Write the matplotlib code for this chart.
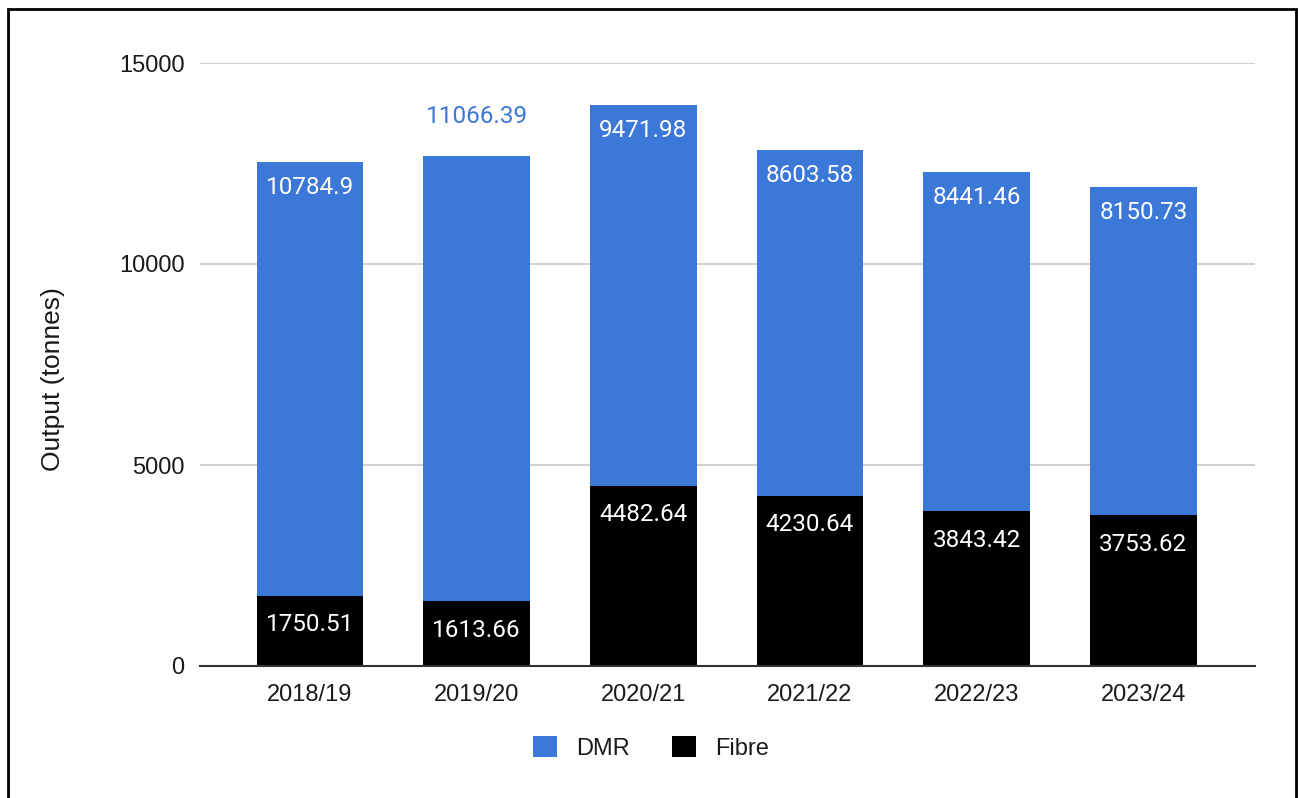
import matplotlib
matplotlib.use("Agg")
import matplotlib.pyplot as plt
from matplotlib.patches import Rectangle, Patch
import numpy as np

years = ["2018/19", "2019/20", "2020/21", "2021/22", "2022/23", "2023/24"]
fibre = [1750.51, 1613.66, 4482.64, 4230.64, 3843.42, 3753.62]
dmr = [10784.9, 11066.39, 9471.98, 8603.58, 8441.46, 8150.73]
# the DMR label for this bar sits above the bar rather than inside it
dmr_label_outside = [False, True, False, False, False, False]

BLUE = "#3c78d8"
BLACK = "#000000"
TICK_FONT = "Liberation Sans"
LABEL_FONT = "Roboto"
FS = 17

W, H = 1298, 798
fig = plt.figure(figsize=(W / 100, H / 100), dpi=100)
ax = fig.add_axes([200 / W, 1 - 666 / H, (1255 - 200) / W, (666 - 63) / H])

x = np.arange(len(years))
width = 0.64
ax.bar(x, fibre, width, color=BLACK, zorder=3, label="Fibre")
ax.bar(x, dmr, width, bottom=fibre, color=BLUE, zorder=3, label="DMR")

# value labels, offset in pixels from the top of each segment
to_data = 15000 / (666 - 63)
for i in range(len(years)):
    ax.text(x[i], fibre[i] - 29 * to_data, str(fibre[i]), ha="center", va="center",
            color="white", fontsize=17.5, family=LABEL_FONT, zorder=4)
    top = fibre[i] + dmr[i]
    if dmr_label_outside[i]:
        ax.text(x[i], top + 40 * to_data, str(dmr[i]), ha="center", va="center",
                color=BLUE, fontsize=17.5, family=LABEL_FONT, zorder=4)
    else:
        ax.text(x[i], top - 25 * to_data, str(dmr[i]), ha="center", va="center",
                color="white", fontsize=17.5, family=LABEL_FONT, zorder=4)

ax.set_xlim(-0.66, 5.67)
ax.set_ylim(0, 15000)
ax.set_yticks([0, 5000, 10000, 15000])
ax.set_yticklabels(["0", "5000", "10000", "15000"])
ax.set_xticks(x)
ax.set_xticklabels(years)
for lab in ax.get_xticklabels() + ax.get_yticklabels():
    lab.set_family(TICK_FONT)
    lab.set_fontsize(FS)
    lab.set_color("#1a1a1a")
ax.tick_params(axis="both", length=0)
ax.tick_params(axis="y", pad=11)
ax.tick_params(axis="x", pad=13)

ax.grid(axis="y", color="#cccccc", linewidth=1.3, zorder=0)
for s in ["top", "right", "left"]:
    ax.spines[s].set_visible(False)
ax.spines["bottom"].set_color("#333333")
ax.spines["bottom"].set_linewidth(1.5)
ax.spines["bottom"].set_zorder(5)

ax.set_ylabel("Output (tonnes)", family=TICK_FONT, fontsize=19, color="#1a1a1a")
ax.yaxis.set_label_coords(-(200 - 65) / (1255 - 200), (666 - 379) / (666 - 63))

handles = [Patch(facecolor=BLUE, label="DMR"), Patch(facecolor=BLACK, label="Fibre")]
leg = fig.legend(handles=handles, loc="center", bbox_to_anchor=(651 / W, 1 - 748 / H),
                 ncol=2, frameon=False, handlelength=1.0, handleheight=1.0,
                 handletextpad=0.8, columnspacing=1.8,
                 prop={"family": TICK_FONT, "size": FS})
for t in leg.get_texts():
    t.set_color("#1a1a1a")

# frame around the figure
fig.patches.append(Rectangle((8 / W, -0.02), (1296 - 8) / W, 1.02 - 9 / H,
                             transform=fig.transFigure, fill=False,
                             edgecolor="black", linewidth=2))

fig.savefig("out.png", dpi=100, facecolor="white")
